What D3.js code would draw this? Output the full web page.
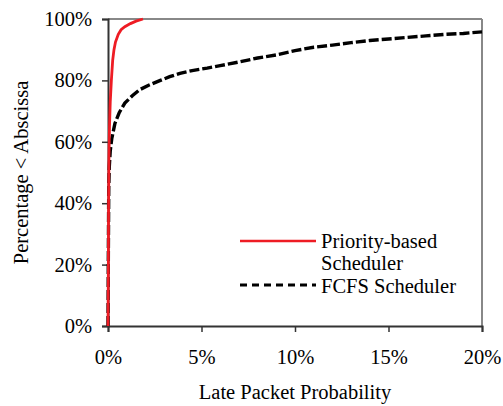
<!DOCTYPE html>
<html>
<head>
<meta charset="utf-8">
<script src="https://cdn.jsdelivr.net/npm/d3@7"></script>
<style>
  body { margin: 0; background: #fff; }
</style>
</head>
<body>
<div id="chart"></div>
<script>
// late packet probability (%) vs percentage < abscissa (%)
var priorityX = [0, 0.02, 0.03, 0.05, 0.08, 0.12, 0.18, 0.25, 0.32, 0.4, 0.55, 0.7, 0.9, 1.2, 1.5, 1.87];
var priorityY = [0, 20, 40, 55, 65, 73, 80, 86.5, 90, 92.5, 95, 96.5, 97.5, 98.5, 99.3, 100];

var fcfsX = [0, 0.02, 0.04, 0.07, 0.12, 0.2, 0.37, 0.6, 0.9, 1.3, 1.7, 2.2, 2.8, 3.3, 3.85, 4.5, 5.3, 6, 7, 8, 9, 10, 11, 12, 13, 14, 15, 16, 17, 18, 19, 20];
var fcfsY = [0, 25, 45, 52, 57, 61, 66, 69.5, 72.6, 75, 77, 78.5, 80, 81.2, 82.3, 83.2, 84, 84.8, 86, 87.3, 88.3, 89.7, 90.8, 91.5, 92.3, 93, 93.5, 94, 94.5, 95, 95.3, 95.8];

var xTicks = [0, 5, 10, 15, 20];
var yTicks = [0, 20, 40, 60, 80, 100];
var legendLabels = [["Priority-based", "Scheduler"], ["FCFS Scheduler"]];

var serif = "'Liberation Serif', 'Times New Roman', Times, 'DejaVu Serif', serif";
var fs = 20.5;
var width = 503, height = 406;
var margin = {left: 108, right: 21, top: 19, bottom: 80};

var svg = d3.select("#chart").append("svg")
  .attr("width", width)
  .attr("height", height)
  .style("font-family", serif);

var x = d3.scaleLinear().domain([0, 20]).range([margin.left, width - margin.right]);
var y = d3.scaleLinear().domain([0, 100]).range([height - margin.bottom, margin.top]);

// frame: top and right in gray
svg.append("line")
  .attr("x1", x(0)).attr("x2", x(20))
  .attr("y1", y(100)).attr("y2", y(100))
  .attr("stroke", "#888").attr("stroke-width", 2);
svg.append("line")
  .attr("x1", x(20)).attr("x2", x(20))
  .attr("y1", y(100)).attr("y2", y(0))
  .attr("stroke", "#888").attr("stroke-width", 2);

var xAxis = svg.append("g")
  .attr("transform", "translate(0," + y(0) + ")")
  .call(d3.axisBottom(x).tickValues(xTicks).tickSize(6).tickPadding(17).tickFormat(function(d) { return d + "%"; }));

var yAxis = svg.append("g")
  .attr("transform", "translate(" + x(0) + ",0)")
  .call(d3.axisLeft(y).tickValues(yTicks).tickSize(6).tickPadding(10).tickFormat(function(d) { return d + "%"; }));

[xAxis, yAxis].forEach(function(a) {
  a.attr("font-family", serif).attr("font-size", fs);
  a.select(".domain").attr("stroke", "#333").attr("stroke-width", 2);
  a.selectAll(".tick line").attr("stroke", "#333").attr("stroke-width", 1.5);
  a.selectAll(".tick text").attr("fill", "#000");
});

var line = d3.line()
  .x(function(d) { return x(d[0]); })
  .y(function(d) { return y(d[1]); });

var fcfs = d3.zip(fcfsX, fcfsY);
var priority = d3.zip(priorityX, priorityY);

svg.append("path")
  .datum(fcfs)
  .attr("d", line)
  .attr("fill", "none")
  .attr("stroke", "#000")
  .attr("stroke-width", 3.4)
  .attr("stroke-dasharray", "10,3");

svg.append("path")
  .datum(priority)
  .attr("d", line)
  .attr("fill", "none")
  .attr("stroke", "#ee1c24")
  .attr("stroke-width", 2.8);

// legend
var lg = svg.append("g").attr("font-size", fs);
lg.append("line")
  .attr("x1", 240).attr("x2", 316).attr("y1", 241).attr("y2", 241)
  .attr("stroke", "#ee1c24").attr("stroke-width", 2.5);
lg.append("line")
  .attr("x1", 240).attr("x2", 316).attr("y1", 285).attr("y2", 285)
  .attr("stroke", "#000").attr("stroke-width", 3).attr("stroke-dasharray", "7,5");

lg.append("text").attr("x", 321).attr("y", 248).text(legendLabels[0][0]);
lg.append("text").attr("x", 321).attr("y", 270).text(legendLabels[0][1]);
lg.append("text").attr("x", 321).attr("y", 293).text(legendLabels[1][0]);

// axis titles
svg.append("text")
  .attr("x", x(10)).attr("y", 399)
  .attr("text-anchor", "middle")
  .attr("font-size", fs)
  .text("Late Packet Probability");

svg.append("text")
  .attr("transform", "translate(28," + y(50) + ") rotate(-90)")
  .attr("text-anchor", "middle")
  .attr("font-size", fs)
  .text("Percentage < Abscissa");
</script>
</body>
</html>
